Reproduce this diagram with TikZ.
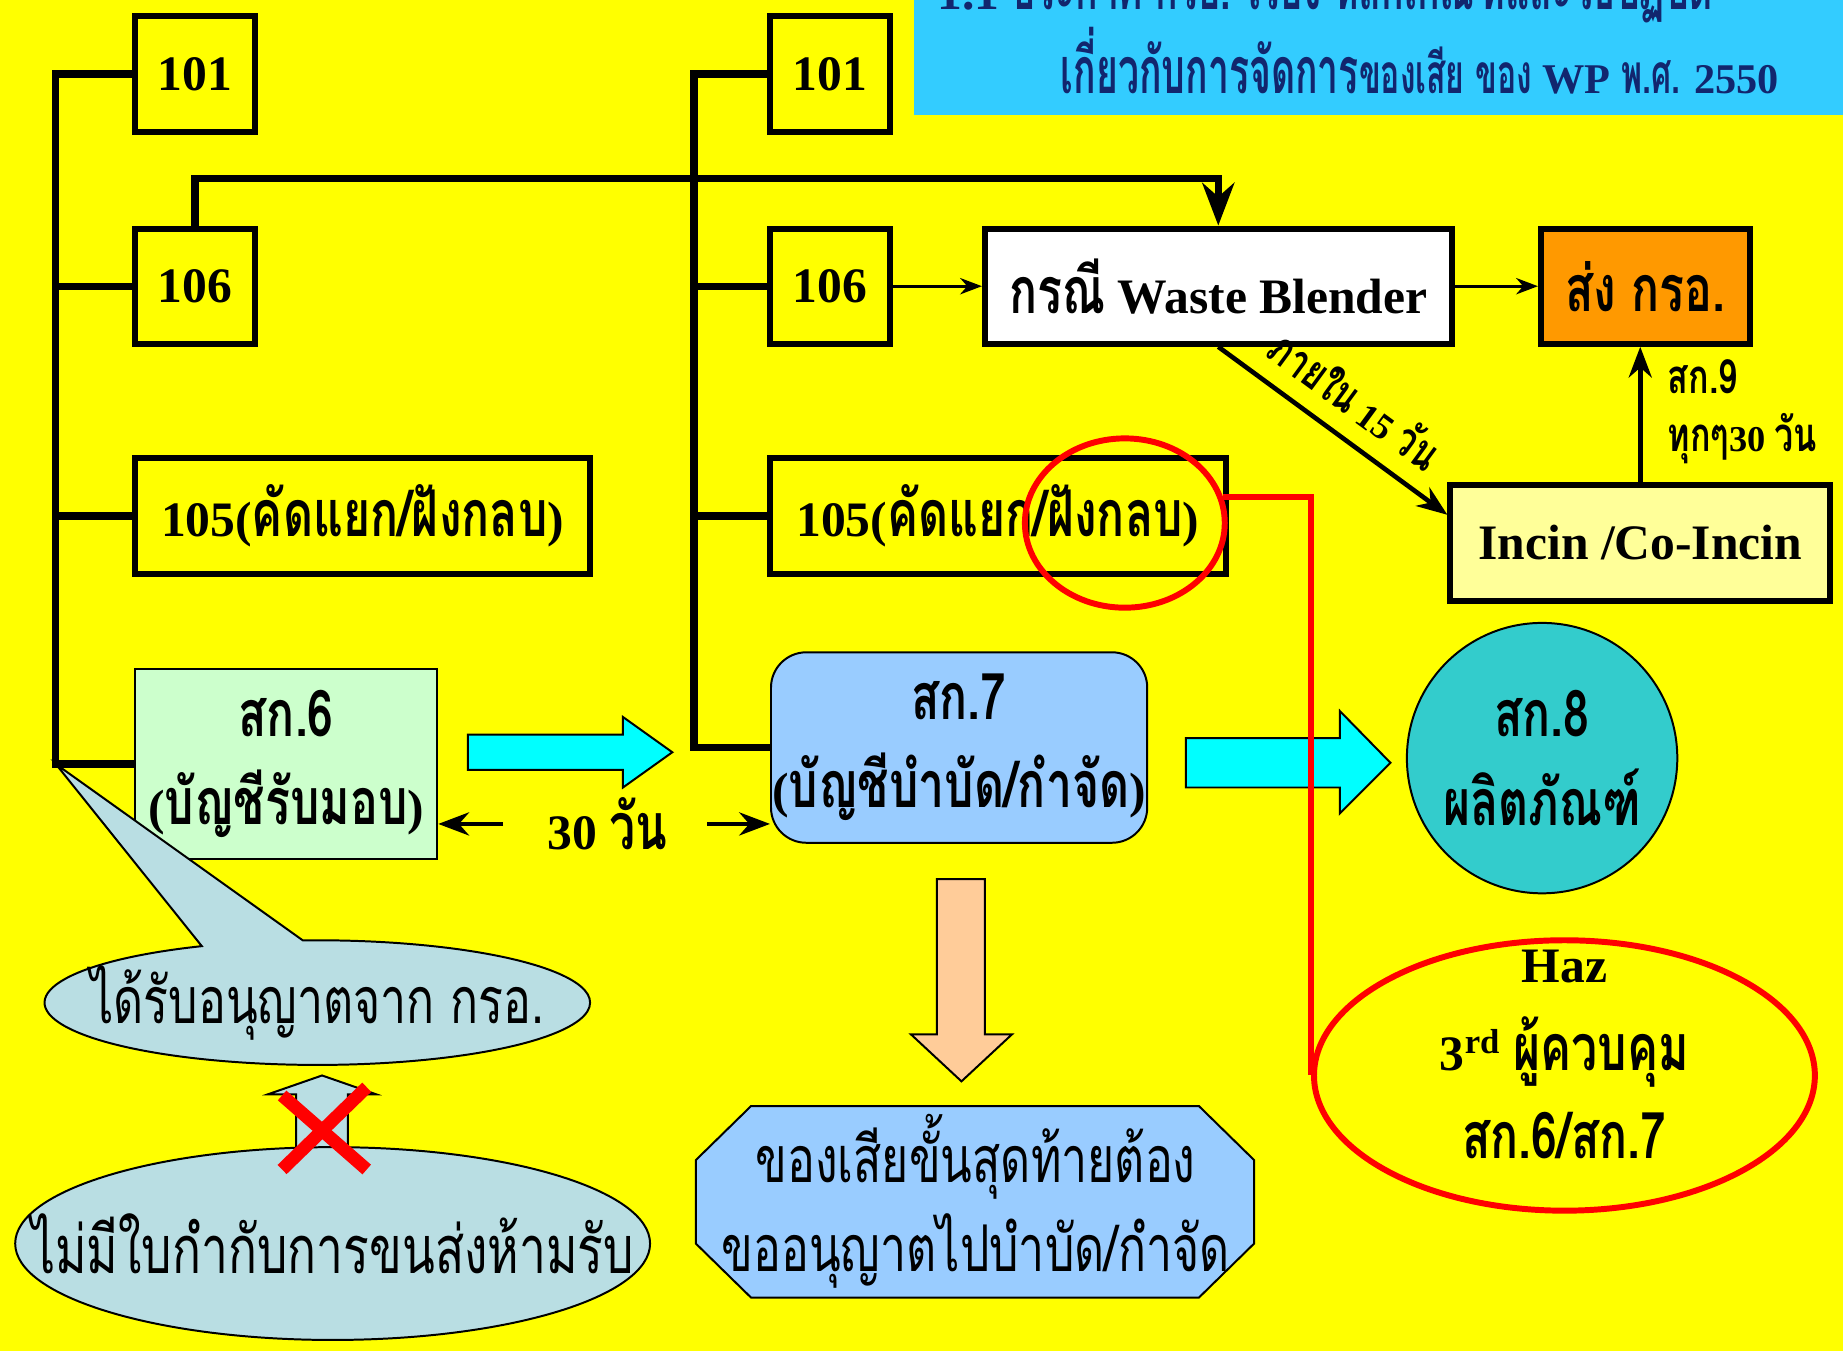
\documentclass[tikz,border=0pt]{standalone}
\usepackage{fontspec}
\setmainfont{Liberation Serif}
\newfontfamily\thaifont[Script=Thai,FakeStretch=0.72,Scale=1.3]{Loma}
\newfontfamily\thainarrow[Script=Thai,FakeStretch=0.58,Scale=1.3]{Loma}
\newcommand{\T}[1]{{\thaifont #1}}
\newcommand{\TN}[1]{{\thainarrow #1}}
\usetikzlibrary{arrows.meta, positioning, shapes.geometric, shapes.callouts}
\definecolor{bgyellow}{RGB}{255,255,0}
\definecolor{titleblue}{RGB}{51,204,255}
\definecolor{navy}{RGB}{18,38,110}
\definecolor{mint}{RGB}{204,255,204}
\definecolor{skyblue}{RGB}{153,204,255}
\definecolor{sendorange}{RGB}{255,153,0}
\definecolor{paleyellow}{RGB}{255,255,153}
\definecolor{aqua}{RGB}{0,255,255}
\definecolor{tealball}{RGB}{51,204,204}
\definecolor{peach}{RGB}{255,204,153}
\definecolor{bubble}{RGB}{185,222,227}

\begin{document}
\begin{tikzpicture}[
x=0.0125cm, y=-0.0125cm,
>=Stealth,
every node/.style={font=\bfseries\fontsize{15}{26.7}\selectfont, align=center},
codebox/.style={draw, line width=1.8pt, inner sep=0pt, minimum width=1.275cm, minimum height=1.225cm},
softbox/.style={draw, line width=0.6pt, inner sep=0pt},
bus/.style={line width=2.2pt},
thinarrow/.style={->, line width=0.8pt},
boldarrow/.style={->, line width=1.4pt},
redline/.style={draw=red, line width=1.8pt},
blockarrow/.style={draw=black, line width=0.6pt},
smalllab/.style={font=\bfseries\fontsize{11}{14}\selectfont},
plaintxt/.style={font=\mdseries\fontsize{15}{26.7}\selectfont},
]
\useasboundingbox (0,0) rectangle (1568,1149);
\fill[bgyellow] (0,0) rectangle (1568,1149);
\fill[titleblue] (778,-2) rectangle (1568,98);
\begin{scope}
\clip (778,0) rectangle (1568,98);
\node[text=navy, anchor=base west, inner sep=0pt, font=\bfseries\fontsize{15}{17}\selectfont] (heading) at (797,8) {1.1 \TN{ประกาศ กรอ. เรื่อง หลักเกณฑ์และวิธีปฏิบัติ}};
\end{scope}
\node[text=navy, font=\bfseries\fontsize{15}{17}\selectfont] (title) at (1208,52) {\TN{เกี่ยวกับการจัดการ}{\fontsize{12.8}{15}\selectfont\TN{ของเสีย ของ} WP \TN{พ.ศ.} 2550}};

\node[codebox] (a101) at (166,63) {101};
\node[codebox] (a106) at (166,243.5) {106};
\node[codebox, minimum width=4.8375cm] (a105) at (308.5,439) {105(\T{คัดแยก/ฝังกลบ})};
\node[softbox, fill=mint, minimum width=3.2125cm, minimum height=2.025cm] (s6) at (243.5,650) {\T{สก.6}\\(\T{บัญชีรับมอบ})};

\node[codebox] (b101) at (706,63) {101};
\node[codebox] (b106) at (706,243.5) {106};
\node[codebox, minimum width=4.85cm] (b105) at (849,439) {105(\T{คัดแยก/ฝังกลบ})};
\node[softbox, fill=skyblue, rounded corners=0.375cm, minimum width=4cm, minimum height=2.025cm] (s7) at (816,636) {\T{สก.7}\\(\T{บัญชีบำบัด/กำจัด})};

\node[codebox, fill=white, minimum width=4.9625cm] (wb) at (1036.5,243.5) {\T{กรณี} Waste Blender};
\node[codebox, fill=sendorange, minimum width=2.225cm] (send) at (1400,243.5) {\T{ส่ง กรอ.}};
\node[codebox, fill=paleyellow, minimum width=4.0375cm] (incin) at (1395.5,462) {Incin /Co-Incin};
\node[circle, softbox, fill=tealball, minimum size=2.875cm] (s8) at (1312,645) {\T{สก.8}\\\T{ผลิตภัณฑ์}};

\draw[bus] (a101.west) -- ++(-65,0) coordinate (ltop) |- (s6.west);
\draw[bus] (a106.west) -- (a106.west -| ltop);
\draw[bus] (a105.west) -- (a105.west -| ltop);
\draw[bus] (b101.west) -- ++(-62,0) coordinate (mtop) |- (s7.west);
\draw[bus] (b106.west) -- (b106.west -| mtop);
\draw[bus] (b105.west) -- (b105.west -| mtop);

\draw[bus, ->] (a106.north) -- ++(0,-40) -| (wb.north);
\draw[thinarrow] (b106) -- (wb);
\draw[thinarrow] (wb) -- (send);
\draw[boldarrow] (incin.north) -- (incin.north |- send.south)
  node[smalllab, pos=0.78, right=0.15cm] {\T{สก.9}}
  node[smalllab, pos=0.32, right=0.15cm] {\T{ทุกๆ}30 \T{วัน}};
\draw[boldarrow] (wb.south) -- ([yshift=0.3cm]incin.west)
  node[smalllab, sloped, above=2pt, midway] {\T{ภายใน} 15 \T{วัน}};

\node (days) at (517,701) {30 \T{วัน}};
\draw[boldarrow] ([xshift=-0.35cm]days.west) -- (days -| s6.east);
\draw[boldarrow] ([xshift=0.3cm]days.east) -- (days -| s7.west);

\filldraw[fill=aqua, blockarrow] (398,625) -- (530,625) -- (530,610) -- (572,640) -- (530,670) -- (530,655) -- (398,655) -- cycle;
\filldraw[fill=aqua, blockarrow] (1009,628) -- (1140,628) -- (1140,605) -- (1183,649) -- (1140,692) -- (1140,670) -- (1009,670) -- cycle;
\filldraw[fill=peach, blockarrow] (797,748) -- (838,748) -- (838,880) -- (861,880) -- (818,920) -- (775,880) -- (797,880) -- cycle;

\filldraw[fill=skyblue, blockarrow] (639,941) -- (1020,941) -- (1067,987) -- (1067,1058) -- (1020,1104) -- (639,1104) -- (592,1058) -- (592,987) -- cycle;
\node[plaintxt] (final) at (830,1022) {\T{ของเสียขั้นสุดท้ายต้อง}\\\T{ขออนุญาตไปบำบัด/กำจัด}};

\node[ellipse, redline, minimum width=2.125cm, minimum height=1.8cm] (ring) at (957,445) {};
\node[ellipse, redline, minimum width=5.325cm, minimum height=2.875cm, label={[yshift=0.225cm]center:Haz\\3\textsuperscript{rd} \T{ผู้ควบคุม}\\\T{สก.6/สก.7}}] (haz) at (1331,915) {};
\draw[redline] (ring.15) -| (haz.west);

\node[ellipse callout, softbox, fill=bubble, minimum width=5.8cm, minimum height=1.325cm, callout absolute pointer={(ltop |- s6.west)}, callout pointer arc=22, label={[plaintxt]center:\T{ได้รับอนุญาตจาก กรอ.}}] (permit) at (270,853) {};
\filldraw[fill=bubble, blockarrow] (274,915) -- (320,931) -- (296,931) -- (296,985) -- (252,985) -- (252,931) -- (228,931) -- cycle;
\node[ellipse, softbox, fill=bubble, minimum width=6.75cm, minimum height=2.05cm, label={[plaintxt, font=\mdseries\fontsize{15.5}{20}\selectfont]center:\T{ไม่มีใบกำกับการขนส่งห้ามรับ}}] (nomanifest) at (283,1058) {};
\draw[red, line width=3.9pt] (240,932) -- (312,995);
\draw[red, line width=3.9pt] (240,995) -- (312,925);
\end{tikzpicture}
\end{document}
